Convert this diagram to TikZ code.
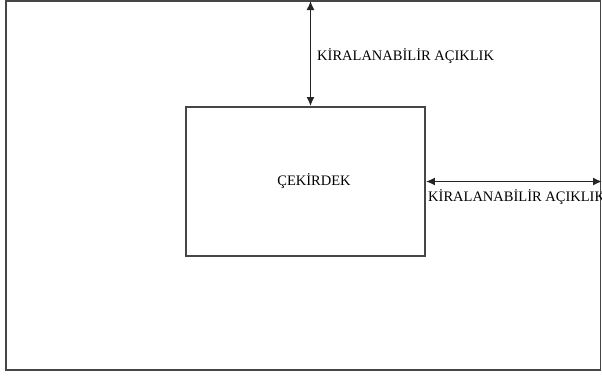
\documentclass[tikz,border=0pt]{standalone}
\usepackage{fontspec}
\setmainfont{Liberation Serif}
\usetikzlibrary{arrows.meta, positioning}
\definecolor{edgegray}{RGB}{70, 70, 70}

\begin{document}
\begin{tikzpicture}[
  x=1pt, y=-1pt,
  plan/.style={draw=edgegray, line width=1.8pt},
  corebox/.style={draw=edgegray, line width=1.8pt, minimum width=239pt, minimum height=149pt, inner sep=0pt, font=\fontsize{14.5}{16}\selectfont},
  gap/.style={draw=black!85, line width=1.5pt, {Latex[length=9pt, width=8pt]}-{Latex[length=9pt, width=8pt]}},
  lbl/.style={font=\fontsize{14.5}{16}\selectfont, inner sep=0pt, anchor=west}
]
  \useasboundingbox (0, 0) rectangle (602, 376);
  \clip (0, 0) rectangle (602, 376);
  % outer floor plate
  \draw[plan] (6, 1) rectangle (600.5, 370);
  % core
  \node[corebox] (core) at (305.5, 181.5) {\hspace*{17pt}ÇEKİRDEK};
  \coordinate (topwall) at (310.5, 1);
  \coordinate (rightwall) at (602, 181.5);
  \draw[gap] (topwall) -- (topwall |- core.north);
  \draw[gap] (core.east) -- (rightwall);
  \node[lbl] (toplbl) at (317, 56.5) {KİRALANABİLİR AÇIKLIK};
  \node[lbl] (rightlbl) at (428, 197) {KİRALANABİLİR AÇIKLIK};
\end{tikzpicture}
\end{document}
